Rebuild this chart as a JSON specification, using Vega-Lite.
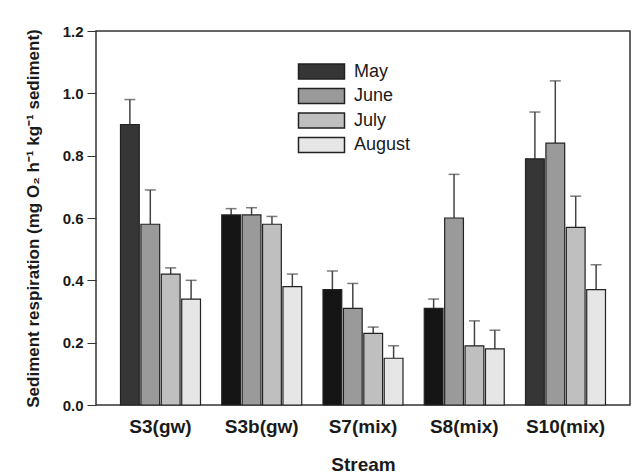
{
  "$schema": "https://vega.github.io/schema/vega-lite/v6.json",
  "width": 534,
  "height": 374,
  "autosize": {"type": "none"},
  "padding": {"left": 96, "top": 31, "right": 3, "bottom": 70},
  "background": "white",
  "config": {
    "font": "Liberation Sans",
    "view": {"stroke": "#333333", "strokeWidth": 1.5},
    "axis": {"grid": false, "domainColor": "#333333", "tickColor": "#333333", "labelColor": "#1a1a1a", "titleColor": "#1a1a1a"}
  },
  "data": {
    "values": [
      {"stream": "S3(gw)", "month": "May", "value": 0.90, "upper": 0.98},
      {"stream": "S3(gw)", "month": "June", "value": 0.58, "upper": 0.69},
      {"stream": "S3(gw)", "month": "July", "value": 0.42, "upper": 0.44},
      {"stream": "S3(gw)", "month": "August", "value": 0.34, "upper": 0.40},
      {"stream": "S3b(gw)", "month": "May", "value": 0.61, "upper": 0.63},
      {"stream": "S3b(gw)", "month": "June", "value": 0.61, "upper": 0.633},
      {"stream": "S3b(gw)", "month": "July", "value": 0.58, "upper": 0.605},
      {"stream": "S3b(gw)", "month": "August", "value": 0.38, "upper": 0.42},
      {"stream": "S7(mix)", "month": "May", "value": 0.37, "upper": 0.43},
      {"stream": "S7(mix)", "month": "June", "value": 0.31, "upper": 0.39},
      {"stream": "S7(mix)", "month": "July", "value": 0.23, "upper": 0.25},
      {"stream": "S7(mix)", "month": "August", "value": 0.15, "upper": 0.19},
      {"stream": "S8(mix)", "month": "May", "value": 0.31, "upper": 0.34},
      {"stream": "S8(mix)", "month": "June", "value": 0.60, "upper": 0.74},
      {"stream": "S8(mix)", "month": "July", "value": 0.19, "upper": 0.27},
      {"stream": "S8(mix)", "month": "August", "value": 0.18, "upper": 0.24},
      {"stream": "S10(mix)", "month": "May", "value": 0.79, "upper": 0.94},
      {"stream": "S10(mix)", "month": "June", "value": 0.84, "upper": 1.04},
      {"stream": "S10(mix)", "month": "July", "value": 0.57, "upper": 0.67},
      {"stream": "S10(mix)", "month": "August", "value": 0.37, "upper": 0.45}
    ]
  },
  "encoding": {
    "x": {
      "field": "stream", "type": "nominal",
      "sort": ["S3(gw)", "S3b(gw)", "S7(mix)", "S8(mix)", "S10(mix)"],
      "scale": {"paddingInner": 0.21, "paddingOuter": 0.242},
      "axis": {"title": "Stream", "labelAngle": 0, "ticks": false, "domain": false, "labelPadding": 12,
               "labelFontSize": 19, "labelFontWeight": "bold", "titleFontSize": 19, "titleFontWeight": "bold", "titlePadding": 19}
    },
    "xOffset": {
      "field": "month", "type": "nominal",
      "sort": ["May", "June", "July", "August"],
      "scale": {"paddingInner": 0.08}
    }
  },
  "layer": [
    {
      "mark": {"type": "rule", "strokeWidth": 1.5, "color": "#444444"},
      "encoding": {
        "y": {"field": "value", "type": "quantitative"},
        "y2": {"field": "upper"}
      }
    },
    {
      "mark": {"type": "tick", "orient": "horizontal", "size": 11, "thickness": 1.5, "color": "#444444"},
      "encoding": {
        "y": {"field": "upper", "type": "quantitative"}
      }
    },
    {
      "mark": {"type": "bar", "stroke": "#222222", "strokeWidth": 1.2},
      "encoding": {
        "y": {
          "field": "value", "type": "quantitative",
          "scale": {"domain": [0, 1.2], "nice": false, "zero": true},
          "axis": {
            "title": "Sediment respiration (mg O₂ h⁻¹ kg⁻¹ sediment)",
            "values": [0, 0.2, 0.4, 0.6, 0.8, 1.0, 1.2], "format": ".1f",
            "tickSize": 9, "labelPadding": 4, "domain": false,
            "labelFontSize": 15, "labelFontWeight": "bold",
            "titleFontSize": 17, "titleFontWeight": "bold",
            "titleX": -58, "titleY": 187, "titleBaseline": "alphabetic", "titleAlign": "center", "titleAngle": -90
          }
        },
        "color": {
          "condition": {
            "test": "datum.month === 'May' && indexof(['S3b(gw)','S7(mix)','S8(mix)'], datum.stream) >= 0",
            "value": "#151515"
          },
          "field": "month", "type": "nominal",
          "scale": {"domain": ["May", "June", "July", "August"], "range": ["#363636", "#9a9a9a", "#bfbfbf", "#e6e6e6"]},
          "legend": {
            "title": null, "orient": "none", "legendX": 216.5, "legendY": 31.5, "padding": 0,
            "symbolType": "M-3.067,-1H3.067V1H-3.067Z", "symbolSize": 225,
            "symbolStrokeColor": "#222222", "symbolStrokeWidth": 1.5, "symbolOpacity": 1,
            "labelFontSize": 18, "labelColor": "#1a1a1a", "labelOffset": 23.5, "rowPadding": 2.5
          }
        }
      }
    }
  ]
}
